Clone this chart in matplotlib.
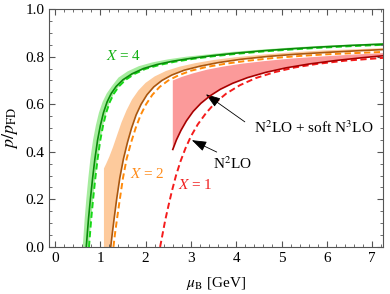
import matplotlib
matplotlib.use("Agg")
import matplotlib.pyplot as plt
from matplotlib.ticker import MultipleLocator

plt.rcParams['font.family'] = ['Liberation Serif', 'DejaVu Serif']
plt.rcParams['mathtext.fontset'] = 'stix'

# X = 4
g_solid_mu = [0.69, 0.71, 0.74, 0.78, 0.83, 0.88, 0.94, 1.0, 1.07, 1.15, 1.24, 1.35, 1.5, 1.7, 1.95, 2.25, 2.6, 3.0, 3.5, 4.0, 4.6, 5.2, 5.8, 6.5, 7.25]
g_solid_p = [0.0, 0.05, 0.12, 0.2, 0.29, 0.37, 0.45, 0.51, 0.565, 0.61, 0.645, 0.675, 0.703, 0.728, 0.75, 0.767, 0.781, 0.793, 0.805, 0.815, 0.825, 0.833, 0.84, 0.847, 0.853]
g_dash_mu = [0.75, 0.77, 0.8, 0.84, 0.89, 0.94, 1.0, 1.06, 1.13, 1.21, 1.3, 1.41, 1.56, 1.76, 2.0, 2.3, 2.65, 3.05, 3.5, 4.0, 4.6, 5.2, 5.8, 6.5, 7.25]
g_dash_p = [0.0, 0.05, 0.12, 0.2, 0.29, 0.37, 0.45, 0.51, 0.565, 0.61, 0.645, 0.675, 0.703, 0.728, 0.749, 0.765, 0.779, 0.791, 0.802, 0.812, 0.822, 0.83, 0.837, 0.844, 0.85]
g_band_mu = [0.61, 0.63, 0.655, 0.69, 0.735, 0.78, 0.84, 0.9, 0.97, 1.05, 1.14, 1.25, 1.4, 1.6, 1.85, 2.15, 2.5, 2.9, 3.4, 3.9, 4.5, 5.1, 5.8, 6.5, 7.25]
g_band_p = [0.0, 0.05, 0.12, 0.2, 0.29, 0.37, 0.45, 0.51, 0.565, 0.61, 0.645, 0.675, 0.712, 0.738, 0.76, 0.776, 0.789, 0.8, 0.81, 0.82, 0.829, 0.837, 0.845, 0.851, 0.857]

# X = 2
o_solid_mu = [1.23, 1.26, 1.305, 1.36, 1.43, 1.51, 1.6, 1.69, 1.79, 1.9, 2.03, 2.18, 2.36, 2.58, 2.85, 3.2, 3.6, 4.1, 4.7, 5.3, 6.0, 6.6, 7.25]
o_solid_p = [0.0, 0.05, 0.12, 0.2, 0.29, 0.37, 0.44, 0.5, 0.555, 0.6, 0.64, 0.673, 0.7, 0.723, 0.743, 0.76, 0.775, 0.789, 0.801, 0.81, 0.818, 0.824, 0.83]
o_dash_mu = [1.29, 1.32, 1.37, 1.43, 1.5, 1.58, 1.68, 1.78, 1.89, 2.01, 2.15, 2.31, 2.5, 2.73, 3.0, 3.35, 3.75, 4.25, 4.8, 5.4, 6.0, 6.6, 7.25]
o_dash_p = [0.0, 0.05, 0.12, 0.2, 0.29, 0.37, 0.44, 0.5, 0.555, 0.6, 0.64, 0.673, 0.7, 0.722, 0.741, 0.757, 0.77, 0.783, 0.794, 0.803, 0.81, 0.815, 0.82]
o_band_mu = [1.08, 1.08, 1.13, 1.2, 1.28, 1.37, 1.47, 1.58, 1.7, 1.84, 2.0, 2.2, 2.45, 2.75, 3.1, 3.5, 4.0, 4.6, 5.2, 5.9, 6.6, 7.25]
o_band_p = [0.0, 0.33, 0.35, 0.38, 0.42, 0.47, 0.525, 0.575, 0.62, 0.658, 0.69, 0.717, 0.74, 0.758, 0.773, 0.786, 0.798, 0.809, 0.818, 0.826, 0.831, 0.836]

# X = 1
r_solid_mu = [2.6, 2.68, 2.78, 2.9, 3.05, 3.22, 3.42, 3.65, 3.92, 4.25, 4.65, 5.1, 5.6, 6.2, 6.8, 7.25]
r_solid_p = [0.41, 0.45, 0.49, 0.53, 0.57, 0.604, 0.635, 0.663, 0.688, 0.712, 0.734, 0.753, 0.769, 0.784, 0.796, 0.804]
r_dash_mu = [2.32, 2.37, 2.43, 2.5, 2.58, 2.67, 2.77, 2.88, 3.0, 3.15, 3.33, 3.53, 3.78, 4.08, 4.43, 4.85, 5.3, 5.8, 6.4, 7.25]
r_dash_p = [0.0, 0.05, 0.11, 0.17, 0.235, 0.3, 0.36, 0.415, 0.465, 0.515, 0.562, 0.605, 0.645, 0.68, 0.71, 0.735, 0.755, 0.77, 0.783, 0.795]
r_band_mu = [2.6, 2.8, 3.05, 3.35, 3.7, 4.1, 4.6, 5.2, 5.9, 6.6, 7.25]
r_band_p = [0.70, 0.715, 0.73, 0.745, 0.758, 0.77, 0.781, 0.792, 0.801, 0.809, 0.815]

# annotation anchors (text position, arrow start, arrow tip)
lab_full = r'N$^2$LO + soft N$^3$LO'
lab_full_xy = (5.71, 0.50)
arr_full = ((4.19, 0.526), (3.33, 0.642))
lab_n2 = r'N$^2$LO'
lab_n2_xy = (3.91, 0.352)
arr_n2 = ((3.57, 0.399), (3.02, 0.449))

fig = plt.figure(figsize=(3.9, 2.94), dpi=100)
ax = fig.add_axes([0.126, 0.16, 0.856, 0.809])

ax.fill(g_band_mu + g_dash_mu[::-1], g_band_p + g_dash_p[::-1], color='#a6ec9e', lw=0, zorder=1)
ax.fill(o_band_mu + o_solid_mu[::-1], o_band_p + o_solid_p[::-1], color='#fdca9c', lw=0, zorder=1)
ax.fill(r_band_mu + r_solid_mu[::-1], r_band_p + r_solid_p[::-1], color='#fb9a9a', lw=0, zorder=1)

dash = (0, (3.2, 1.8))
ax.plot(g_dash_mu, g_dash_p, color='#16d816', lw=1.4, ls=dash, zorder=3)
ax.plot(g_solid_mu, g_solid_p, color='#0a8a0a', lw=1.2, zorder=4)
ax.plot(o_dash_mu, o_dash_p, color='#ff8a0a', lw=1.4, ls=dash, zorder=3)
ax.plot(o_solid_mu, o_solid_p, color='#a9560e', lw=1.2, zorder=4)
ax.plot(r_dash_mu, r_dash_p, color='#f41c1c', lw=1.4, ls=dash, zorder=3)
ax.plot(r_solid_mu, r_solid_p, color='#a80000', lw=1.2, zorder=4)

ax.set_xlim(-0.13, 7.24)
ax.set_ylim(0, 1.0)
ax.xaxis.set_major_locator(MultipleLocator(1))
ax.xaxis.set_minor_locator(MultipleLocator(0.2))
ax.yaxis.set_major_locator(MultipleLocator(0.2))
ax.yaxis.set_minor_locator(MultipleLocator(0.05))
ax.yaxis.set_major_formatter(plt.FuncFormatter(lambda v, p: f"{v:.1f}"))
ax.tick_params(which='both', direction='in', top=True, right=True, color='#555555', labelsize=11)
ax.tick_params(which='major', length=4, width=0.8)
ax.tick_params(which='minor', length=2, width=0.6)
for s in ax.spines.values():
    s.set_color('#555555')
    s.set_linewidth(0.8)

ax.set_xlabel(r'$\mu_{\rm B}$ [GeV]', fontsize=11, labelpad=7)
ax.set_ylabel(r'$p/p_{\rm FD}$', fontsize=13)

ax.text(1.51, 0.803, r'$X$ = 4', color='#14b014', fontsize=11, ha='center', va='center')
ax.text(2.03, 0.306, r'$X$ = 2', color='#ff8c1a', fontsize=11, ha='center', va='center')
ax.text(3.10, 0.26, r'$X$ = 1', color='#f02020', fontsize=11, ha='center', va='center')

ax.text(*lab_full_xy, lab_full, fontsize=11, ha='center', va='center')
ax.text(*lab_n2_xy, lab_n2, fontsize=11, ha='center', va='center')
for start, tip in (arr_full, arr_n2):
    ax.annotate('', xy=tip, xytext=start,
                arrowprops=dict(arrowstyle='-|>,head_length=1.0,head_width=0.35', color='black',
                                lw=0.6, mutation_scale=9, shrinkA=0, shrinkB=0))

fig.savefig('out.png', dpi=100)
